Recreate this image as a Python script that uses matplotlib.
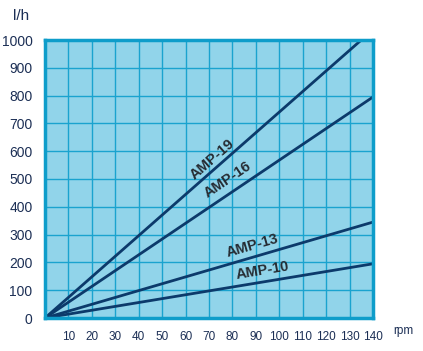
import matplotlib.pyplot as plt
import numpy as np

plt.rcParams['font.family'] = ['Liberation Sans', 'DejaVu Sans']

# pump flow (l/h) against speed (rpm)
models = ['AMP-19', 'AMP-16', 'AMP-13', 'AMP-10']
rpm_end = [135, 140, 140, 140]
flow_end = [1000, 795, 345, 195]

x_ticks = np.arange(10, 150, 10)
y_ticks = np.arange(0, 1100, 100)

line_col = '#0c3a6b'
grid_col = '#1aa3cf'
text_col = '#1c2f55'

fig = plt.figure(figsize=(4.23, 3.51), dpi=100)
ax = fig.add_axes([45/423, 1 - 318/351, 328/423, 278/351])
ax.set_facecolor('#91d4ea')

for m, xe, ye in zip(models, rpm_end, flow_end):
    ax.plot([0, xe], [0, ye], color=line_col, lw=2, solid_capstyle='butt')

ax.set_xlim(0, 140)
ax.set_ylim(0, 1000)
ax.set_xticks(x_ticks)
ax.set_yticks(y_ticks)
ax.grid(True, color=grid_col, lw=1)
ax.set_axisbelow(True)
ax.tick_params(length=0, colors=text_col)
ax.tick_params(axis='x', labelsize=8.5, pad=9)
ax.tick_params(axis='y', labelsize=10, pad=9)
for s in ax.spines.values():
    s.set_color('#0e9dca')
    s.set_linewidth(2.5)

# line labels
lab_x = [71.5, 78, 88.5, 93]
lab_y = [572, 497, 260, 170]
lab_rot = [41, 34, 16, 9.5]
for m, lx, ly, r in zip(models, lab_x, lab_y, lab_rot):
    ax.text(lx, ly, m, rotation=r, ha='center', va='center',
            fontsize=10.5, fontweight='bold', color='#262c33')

fig.text(21/423, 1 - 16/351, 'l/h', fontsize=11, color=text_col,
         ha='center', va='center')
fig.text(403/423, 1 - 331/351, 'rpm', fontsize=8.5, color=text_col,
         ha='center', va='center')

fig.savefig('out.png', dpi=100)
